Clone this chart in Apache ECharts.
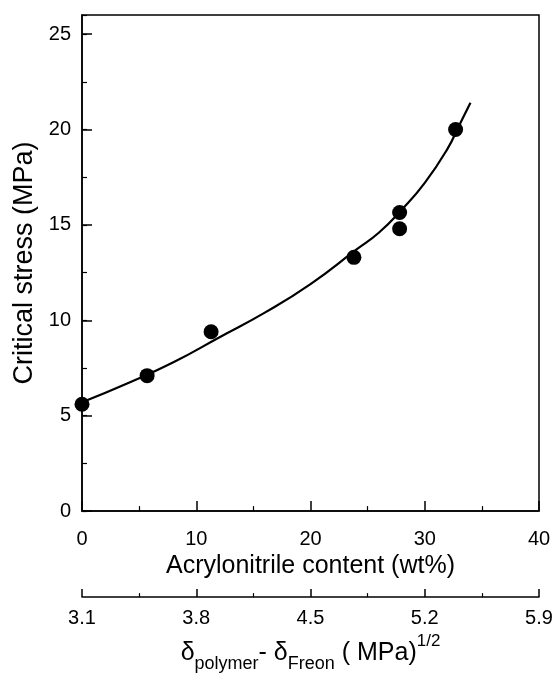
<!DOCTYPE html>
<html>
<head>
<meta charset="utf-8">
<script src="https://cdn.jsdelivr.net/npm/echarts@6/dist/echarts.min.js"></script>
<style>
html,body{margin:0;padding:0;background:#fff;}
#chart{width:557px;height:678px;}
</style>
</head>
<body>
<div id="chart"></div>
<script>
// Measured data points: acrylonitrile content (wt%) vs critical stress (MPa)
var pointX = [0, 5.7, 11.3, 23.8, 27.8, 27.8, 32.7];
var pointY = [5.6, 7.1, 9.4, 13.3, 15.65, 14.8, 20.0];

// Fitted curve
var curveX = [0, 4, 8, 12, 16, 20, 24, 26, 28, 30, 32, 33, 34];
var curveY = [5.7, 6.7, 7.8, 9.1, 10.4, 11.9, 13.7, 14.6, 15.8, 17.2, 19.0, 20.2, 21.4];

// Tick labels
var xTicks = ['0', '10', '20', '30', '40'];
var deltaTicks = ['3.1', '3.8', '4.5', '5.2', '5.9'];

var FONT = 'Liberation Sans, Arial, sans-serif';
var pts = pointX.map(function (x, i) { return [x, pointY[i]]; });
var crv = curveX.map(function (x, i) { return [x, curveY[i]]; });

var chart = echarts.init(document.getElementById('chart'), null, {renderer: 'canvas'});
chart.setOption({
  animation: false,
  backgroundColor: '#fff',
  grid: {left: 82, right: 18, top: 15, bottom: 163, show: true, borderColor: '#000', borderWidth: 1.5, backgroundColor: 'transparent'},
  xAxis: [{
    type: 'value', min: 0, max: 40, interval: 10, position: 'bottom',
    axisLine: {show: true, onZero: false, lineStyle: {color: '#000', width: 1.5}},
    axisTick: {show: true, inside: true, length: 10, lineStyle: {color: '#000', width: 1.5}},
    minorTick: {show: true, splitNumber: 2, length: 5, lineStyle: {color: '#000', width: 1.2}},
    splitLine: {show: false},
    axisLabel: {color: '#000', fontSize: 20, fontFamily: FONT, margin: 18,
      formatter: function (v) { return xTicks[Math.round(v / 10)]; }},
    name: 'Acrylonitrile content (wt%)', nameLocation: 'middle', nameGap: 40,
    nameTextStyle: {color: '#000', fontSize: 25, fontFamily: FONT}
  }, {
    type: 'value', min: 0, max: 40, interval: 10, position: 'bottom', offset: 86,
    axisLine: {show: true, onZero: false, lineStyle: {color: '#000', width: 1.5}},
    axisTick: {show: true, inside: true, length: 8, lineStyle: {color: '#000', width: 1.5}},
    minorTick: {show: true, splitNumber: 2, length: 4, lineStyle: {color: '#000', width: 1.2}},
    splitLine: {show: false},
    axisLabel: {color: '#000', fontSize: 20, fontFamily: FONT, margin: 11,
      formatter: function (v) { return deltaTicks[Math.round(v / 10)]; }},
    name: '{d|δ}{sub|polymer}{d|- δ}{sub|Freon}{d| ( MPa)}{sup|1/2}',
    nameLocation: 'middle', nameGap: 34,
    nameTextStyle: {
      color: '#000', fontFamily: FONT,
      rich: {
        d: {fontSize: 25, fontFamily: FONT, color: '#000', lineHeight: 40},
        sub: {fontSize: 18, fontFamily: FONT, color: '#000', lineHeight: 21, verticalAlign: 'bottom'},
        sup: {fontSize: 17, fontFamily: FONT, color: '#000', lineHeight: 4, verticalAlign: 'top'}
      }
    }
  }],
  yAxis: [{
    type: 'value', min: 0, max: 26, interval: 5, position: 'left',
    axisLine: {show: true, onZero: false, lineStyle: {color: '#000', width: 1.5}},
    axisTick: {show: true, inside: true, length: 10, lineStyle: {color: '#000', width: 1.5}},
    splitLine: {show: false},
    axisLabel: {color: '#000', fontSize: 20, fontFamily: FONT, margin: 11, showMaxLabel: false},
    name: 'Critical stress (MPa)', nameLocation: 'middle', nameGap: 44, nameRotate: 90,
    nameTextStyle: {color: '#000', fontSize: 27, fontFamily: FONT}
  }, {
    type: 'value', min: 0, max: 26, interval: 2.5, position: 'left',
    axisLine: {show: false},
    axisTick: {show: true, inside: true, length: 5, lineStyle: {color: '#000', width: 1.2}},
    splitLine: {show: false},
    axisLabel: {show: false}
  }],
  series: [{
    type: 'line', data: crv, smooth: true, showSymbol: false, symbol: 'none',
    xAxisIndex: 0, yAxisIndex: 0,
    lineStyle: {color: '#000', width: 2.2}, z: 2
  }, {
    type: 'scatter', data: pts, symbol: 'circle', symbolSize: 15,
    xAxisIndex: 0, yAxisIndex: 0,
    itemStyle: {color: '#000', opacity: 1}, z: 3
  }]
});
</script>
</body>
</html>
